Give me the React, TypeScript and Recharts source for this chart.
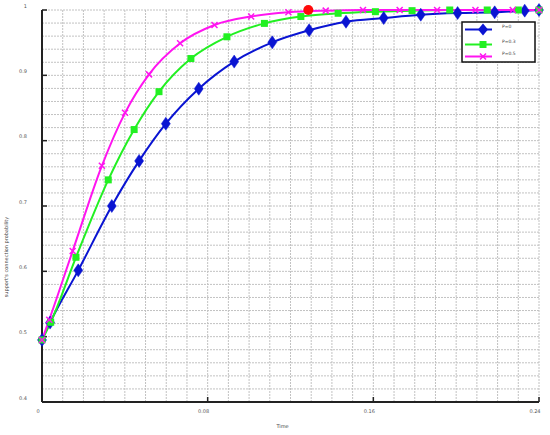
import React from 'react';
import { ComposedChart, Line, XAxis, YAxis, CartesianGrid } from 'recharts';

const BLUE = '#0a14d2';
const GREEN = '#22f022';
const MAGENTA = '#ff14f0';

const seriesNames = ['P=0', 'P=0.3', 'P=0.5'];

const blueX = [0, 0.0039, 0.0175, 0.0337, 0.0469, 0.0598, 0.0757, 0.0928, 0.1112, 0.129, 0.1468, 0.165, 0.1829, 0.2007, 0.2186, 0.2331, 0.24];
const blueY = [0.495, 0.5215, 0.6015, 0.7, 0.769, 0.826, 0.8795, 0.921, 0.9505, 0.969, 0.982, 0.9877, 0.9928, 0.9954, 0.9964, 0.999, 1.0];

const greenX = [0, 0.0042, 0.0164, 0.032, 0.0445, 0.0565, 0.0719, 0.0893, 0.1074, 0.125, 0.143, 0.161, 0.1787, 0.1969, 0.215, 0.23, 0.24];
const greenY = [0.495, 0.522, 0.6215, 0.74, 0.817, 0.875, 0.9257, 0.959, 0.9795, 0.99, 0.995, 0.9974, 0.999, 1.0, 1.0, 1.0, 1.0];

const magentaX = [0, 0.0035, 0.0148, 0.0289, 0.0401, 0.0517, 0.0667, 0.0833, 0.101, 0.119, 0.137, 0.155, 0.1727, 0.1908, 0.2093, 0.2273, 0.24];
const magentaY = [0.495, 0.526, 0.631, 0.7615, 0.8426, 0.9015, 0.949, 0.977, 0.99, 0.9965, 0.999, 1.0, 1.0, 1.0, 1.0, 1.0, 1.0];

const redX = [0.1286];
const redY = [1.0];

const xTicks = [0, 0.08, 0.16, 0.24];
const yTicks = [0.4, 0.5, 0.6, 0.7, 0.8, 0.9, 1.0];
const gridXValues = Array.from({ length: 25 }, (_, i) => +(i * 0.01).toFixed(2));
const gridYValues = Array.from({ length: 31 }, (_, i) => +(0.4 + i * 0.02).toFixed(2));

const toData = (xs: number[], ys: number[]) => xs.map((x, i) => ({ x, y: ys[i] }));
const blueData = toData(blueX, blueY);
const greenData = toData(greenX, greenY);
const magentaData = toData(magentaX, magentaY);
const redData = toData(redX, redY);

const DiamondDot = (props: any) => {
  const { cx, cy, index } = props;
  if (cx == null || cy == null) return <g key={index} />;
  return (
    <polygon
      key={index}
      points={`${cx},${cy - 6.5} ${cx + 4.5},${cy} ${cx},${cy + 6.5} ${cx - 4.5},${cy}`}
      fill={BLUE}
      stroke={BLUE}
      strokeWidth={0.5}
    />
  );
};

const SquareDot = (props: any) => {
  const { cx, cy, index } = props;
  if (cx == null || cy == null) return <g key={index} />;
  return <rect key={index} x={cx - 3.5} y={cy - 3.5} width={7} height={7} fill={GREEN} />;
};

const XDot = (props: any) => {
  const { cx, cy, index } = props;
  if (cx == null || cy == null) return <g key={index} />;
  const s = 3;
  return (
    <g key={index} stroke={MAGENTA} strokeWidth={1.5}>
      <line x1={cx - s} y1={cy - s} x2={cx + s} y2={cy + s} />
      <line x1={cx - s} y1={cy + s} x2={cx + s} y2={cy - s} />
    </g>
  );
};

const RedDot = (props: any) => {
  const { cx, cy, index } = props;
  if (cx == null || cy == null) return <g key={index} />;
  return <circle key={index} cx={cx} cy={cy} r={5} fill="#ff0a0a" />;
};

const LegendBox = () => {
  const rows = [
    { name: seriesNames[0], color: BLUE, kind: 'd', y: 8.5 },
    { name: seriesNames[1], color: GREEN, kind: 's', y: 23.5 },
    { name: seriesNames[2], color: MAGENTA, kind: 'x', y: 35.5 },
  ];
  return (
    <svg width={76} height={43} style={{ display: 'block' }}>
      <rect x={1} y={1} width={73} height={40} fill="#fff" stroke="#111" strokeWidth={1.5} />
      {rows.map((r) => (
        <g key={r.name}>
          <line x1={4} x2={31} y1={r.y} y2={r.y} stroke={r.color} strokeWidth={2} />
          {r.kind === 'd' && (
            <polygon points={`22,${r.y - 6} 27,${r.y} 22,${r.y + 6} 17,${r.y}`} fill={r.color} />
          )}
          {r.kind === 's' && <rect x={18.5} y={r.y - 3.5} width={7} height={7} fill={r.color} />}
          {r.kind === 'x' && (
            <g stroke={r.color} strokeWidth={1.5}>
              <line x1={19} y1={r.y - 3} x2={25} y2={r.y + 3} />
              <line x1={19} y1={r.y + 3} x2={25} y2={r.y - 3} />
            </g>
          )}
          <text x={41} y={r.y - 2} fontSize={4.5} fill="#444" fontFamily="DejaVu Sans">
            {r.name}
          </text>
        </g>
      ))}
    </svg>
  );
};

const fmtX = (v: number) => (v === 0 ? '0' : v.toFixed(2));
const fmtY = (v: number) => (v === 1 ? '1' : v.toFixed(1));

const YLabel = (props: any) => {
  const vb = props.viewBox || { x: 12, y: 10, width: 30, height: 392 };
  const cx = 6;
  const cy = vb.y + vb.height / 2 + 51;
  return (
    <text
      x={cx}
      y={cy}
      transform={`rotate(-90, ${cx}, ${cy})`}
      textAnchor="middle"
      dominantBaseline="central"
      fontSize={5}
      fill="#444"
      fontFamily="DejaVu Sans"
    >
      support's connection probability
    </text>
  );
};

export default function App() {
  return (
    <div style={{ position: 'absolute', left: 0, top: 0, width: 550, height: 435, background: '#fff' }}>
      <ComposedChart width={550} height={435} margin={{ top: 10, right: 11, bottom: 13, left: 12 }}>
        <CartesianGrid
          verticalValues={gridXValues}
          horizontalValues={gridYValues}
          stroke="#c2c2c2"
          strokeDasharray="2 1"
          strokeWidth={1}
        />
        <XAxis
          type="number"
          dataKey="x"
          domain={[0, 0.24]}
          ticks={xTicks}
          interval={0}
          minTickGap={0}
          height={20}
          tickFormatter={fmtX}
          tickSize={-5}
          tickMargin={12}
          tick={{ fontSize: 5, fill: '#555', fontFamily: 'DejaVu Sans', dx: -4 }}
          axisLine={{ stroke: '#222', strokeWidth: 2 }}
          tickLine={{ stroke: '#222', strokeWidth: 1.5 }}
          label={{ value: 'Time', position: 'insideBottom', offset: -6, dx: -8, fontSize: 5, fill: '#444', fontFamily: 'DejaVu Sans' }}
        />
        <YAxis
          type="number"
          dataKey="y"
          domain={[0.4, 1]}
          ticks={yTicks}
          interval={0}
          minTickGap={0}
          width={30}
          tickFormatter={fmtY}
          tickSize={-5}
          tickMargin={20}
          tick={{ fontSize: 5, fill: '#555', fontFamily: 'DejaVu Sans', dy: -4 }}
          axisLine={{ stroke: '#222', strokeWidth: 2 }}
          tickLine={{ stroke: '#222', strokeWidth: 1.5 }}
          label={<YLabel />}
        />
        <Line
          data={blueData}
          dataKey="y"
          name={seriesNames[0]}
          type="monotone"
          stroke={BLUE}
          strokeWidth={2}
          dot={<DiamondDot />}
          isAnimationActive={false}
        />
        <Line
          data={greenData}
          dataKey="y"
          name={seriesNames[1]}
          type="monotone"
          stroke={GREEN}
          strokeWidth={2}
          dot={<SquareDot />}
          isAnimationActive={false}
        />
        <Line
          data={magentaData}
          dataKey="y"
          name={seriesNames[2]}
          type="monotone"
          stroke={MAGENTA}
          strokeWidth={2}
          dot={<XDot />}
          isAnimationActive={false}
        />
        <Line
          data={redData}
          dataKey="y"
          name="point"
          stroke="none"
          dot={<RedDot />}
          activeDot={false}
          isAnimationActive={false}
        />
      </ComposedChart>
      <div style={{ position: 'absolute', left: 461, top: 21 }}>
        <LegendBox />
      </div>
    </div>
  );
}
